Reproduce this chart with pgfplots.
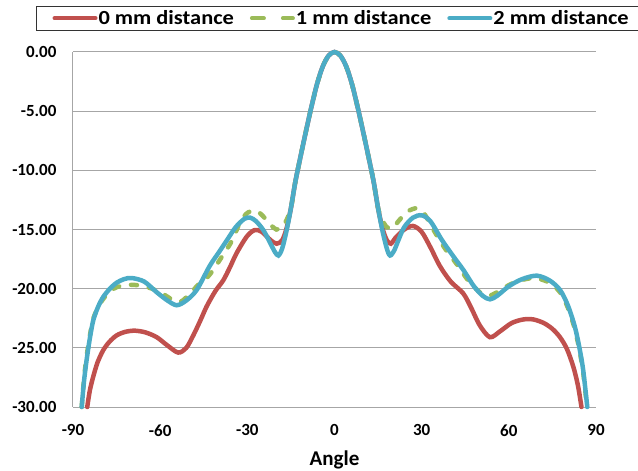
\documentclass[border=0pt]{standalone}
\usepackage{fontspec}
\setmainfont{Carlito}
\usepackage{graphicx}
\usepackage{pgfplots}
\pgfplotsset{compat=1.18}
\definecolor{cred}{HTML}{C0504D}
\definecolor{cgreen}{HTML}{9BBB59}
\definecolor{cblue}{HTML}{4BACC6}
\definecolor{cgrid}{HTML}{A6A6A6}
\newcommand{\leg}[1]{\scalebox{1.12}[1]{#1}}
\begin{document}
\begin{tikzpicture}
\path[use as bounding box] (-73bp,-64bp) rectangle (565bp,407bp);
\begin{axis}[
  at={(0,0)}, anchor=south west,
  scale only axis, width=523bp, height=355bp,
  xmin=-90, xmax=90, ymin=-30, ymax=0,
  clip=false,
  xtick={-90,-60,...,90}, ytick={-30,-25,...,0},
  axis x line*=bottom, axis y line*=left,
  axis line style={draw=cgrid, line width=1bp, -},
  major tick length=0pt,
  ymajorgrids, grid style={draw=cgrid, line width=1bp},
  /pgf/number format/assume math mode=true,
  yticklabel style={/pgf/number format/.cd, fixed, fixed zerofill, precision=2},
  every tick label/.append style={font=\fontsize{17bp}{19bp}\selectfont\bfseries},
  xticklabel shift=14bp,
  yticklabel shift=13bp,
  xlabel={Angle},
  xlabel style={at={(axis description cs:0.5,0)}, anchor=center, yshift=-53bp, font=\fontsize{21bp}{24bp}\selectfont\bfseries},
  legend columns=3,
  legend style={at={(axis description cs:-0.0707,1.1296)}, anchor=north west,
    draw=black!80, line width=1bp, inner xsep=16bp, inner ysep=2bp,
    nodes={inner xsep=1bp, inner ysep=2bp},
    font=\fontsize{20bp}{22bp}\selectfont\bfseries,
    /tikz/every odd column/.append style={column sep=0bp},
    /tikz/every even column/.append style={column sep=15bp}},
  legend image code/.code={\draw[#1, line width=4bp] (0bp,0bp) -- (41bp,0bp);},
  every axis plot/.append style={line width=4.5bp, smooth, tension=0.5, line cap=round},
]
\addplot[cred] coordinates {
(-85.1,-30) (-84.2,-28.6) (-83,-27.4) (-81.5,-26.2) (-79.6,-25.2) (-77.5,-24.5) (-75,-23.95) (-72,-23.65) (-68.7,-23.55) (-65,-23.7) (-61.2,-24.1) (-57.5,-24.8) (-53.8,-25.4) (-51,-25.0) (-48.5,-23.9) (-46,-22.6) (-44,-21.5) (-41,-20.2) (-38.3,-19.3) (-36,-18.2) (-33.7,-17.0) (-30.2,-15.6) (-27.5,-15.05) (-25,-15.2) (-22,-15.9) (-19.9,-16.2) (-18,-15.9) (-16.5,-14.9) (-15,-13.2) (-13.5,-11.0) (-12,-9.2) (-10,-6.9) (-8,-4.7) (-6,-2.7) (-4,-1.2) (-2,-0.3) (0,0) (2,-0.3) (4,-1.2) (6,-2.7) (8,-4.7) (10,-6.9) (12,-9.2) (13.5,-11.0) (15,-13.2) (16.5,-14.9) (18,-15.9) (19.4,-16.2) (21,-15.7) (24,-15.0) (27,-14.7) (30,-15.2) (33,-16.5) (36.3,-18.1) (40,-19.4) (44.3,-20.4) (47,-21.6) (50,-23.1) (53.5,-24.1) (57,-23.6) (61,-22.9) (65,-22.6) (68.4,-22.6) (72,-22.9) (75,-23.4) (77.6,-24.1) (80,-25.1) (82.2,-26.6) (83.8,-28.2) (85.0,-30)
};
\addlegendentry{\leg{0 mm distance}}
\addplot[cgreen, dash pattern=on 6bp off 12bp,
  legend image code/.code={\draw[cgreen, line width=4bp, line cap=round, dash pattern=on 12bp off 19bp] (0bp,0bp) -- (41bp,0bp);}] coordinates {
(-87.0,-30) (-86.2,-27.6) (-85.3,-25.7) (-84.2,-24.0) (-83,-22.5) (-80,-21.0) (-76,-20.0) (-72,-19.7) (-68,-19.7) (-64,-19.9) (-60,-20.3) (-56,-20.9) (-53,-21.1) (-50,-20.5) (-47,-19.7) (-44,-19.1) (-41.7,-18.4) (-38.5,-17.2) (-35.4,-16.0) (-32.5,-14.4) (-30,-13.6) (-27,-13.4) (-24.5,-13.9) (-22,-14.6) (-20,-15.0) (-18,-14.8) (-16.5,-14.2) (-15,-13.2) (-13.5,-11.0) (-12,-9.2) (-10,-6.9) (-8,-4.7) (-6,-2.7) (-4,-1.2) (-2,-0.3) (0,0) (2,-0.3) (4,-1.2) (6,-2.7) (8,-4.7) (10,-6.9) (12,-9.2) (13.5,-11.0) (15,-13.2) (16.5,-14.2) (18,-14.8) (20,-14.9) (22,-14.3) (25,-13.5) (28.5,-13.2) (31,-13.7) (34,-15.0) (38,-16.6) (42,-17.9) (46,-19.3) (50,-20.3) (53,-20.6) (56,-20.3) (60,-19.7) (64,-19.3) (69,-19.1) (74,-19.5) (77.6,-20.3) (80.3,-21.6) (82.7,-23.4) (84.3,-25.2) (85.6,-27.1) (86.9,-30)
};
\addlegendentry{\leg{1 mm distance}}
\addplot[cblue] coordinates {
(-87.0,-30) (-86.2,-27.8) (-85.3,-26.0) (-84.2,-24.2) (-83,-22.65) (-81.3,-21.5) (-79.6,-20.7) (-77.3,-20.0) (-75,-19.5) (-72.5,-19.2) (-69.8,-19.1) (-65.5,-19.4) (-61.2,-20.3) (-57.5,-21.0) (-54.3,-21.4) (-51,-21.0) (-47.4,-20.1) (-43,-18.1) (-40,-17.0) (-37,-15.9) (-34,-14.8) (-31,-14.1) (-29,-14.0) (-27,-14.3) (-24.5,-15.05) (-22,-16.2) (-20.5,-16.9) (-19.3,-17.2) (-18,-16.6) (-16.5,-15.1) (-15,-13.2) (-13.5,-11.0) (-12,-9.2) (-10,-6.9) (-8,-4.7) (-6,-2.7) (-4,-1.2) (-2,-0.3) (0,0) (2,-0.3) (4,-1.2) (6,-2.7) (8,-4.7) (10,-6.9) (12,-9.2) (13.5,-11.0) (15,-13.2) (16.5,-15.1) (18,-16.6) (19.1,-17.2) (20.5,-16.8) (22,-15.9) (24,-14.8) (27,-14.0) (30,-13.8) (33,-14.3) (37,-15.9) (41,-17.3) (44.3,-18.4) (48,-19.8) (51,-20.6) (53.5,-20.9) (56,-20.6) (60,-19.8) (64.5,-19.2) (69.6,-18.9) (74,-19.3) (77.6,-20.1) (80.3,-21.4) (82.7,-23.2) (84.3,-25.0) (85.6,-26.9) (87.0,-30)
};
\addlegendentry{\leg{2 mm distance}}
\end{axis}
\end{tikzpicture}
\end{document}
